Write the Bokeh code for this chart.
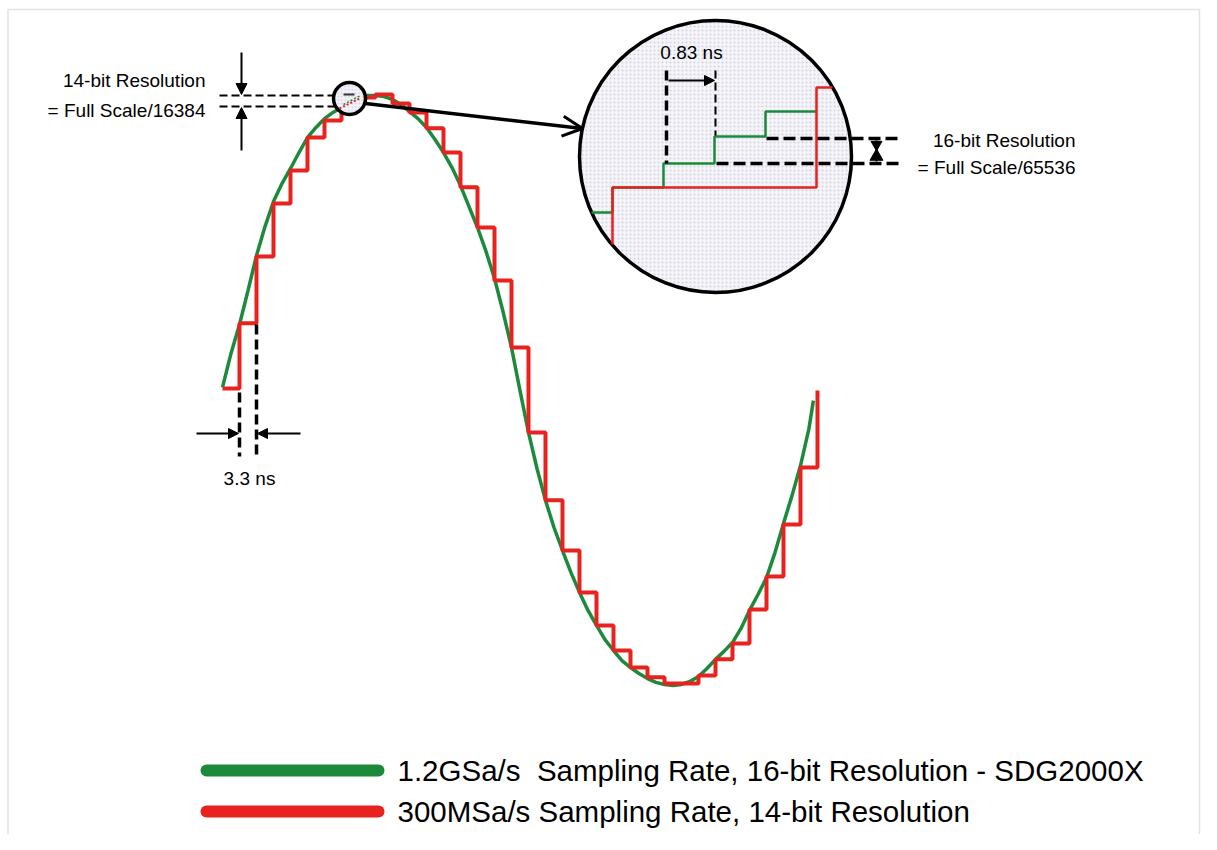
from bokeh.plotting import figure
from bokeh.models import Range1d, Arrow, OpenHead, NormalHead, Label
from bokeh.embed import file_html
from bokeh.resources import INLINE

# ---------------- data (time in ns, amplitude normalised to full scale) -------------
red_t = [0.0, 3.3, 6.6, 9.9, 13.2, 16.5, 19.8, 23.1, 26.4, 29.7, 33.0, 36.3,
         39.6, 42.9, 46.2, 49.5, 52.8, 56.1, 59.4, 62.7, 66.0, 69.3, 72.6, 75.9,
         79.2, 82.5, 85.8, 89.1, 92.4, 95.7, 99.0, 102.3, 105.6, 108.9, 112.2, 115.5]
red_v = [0.010, 0.231, 0.458, 0.637, 0.749, 0.861, 0.919, 0.963, 0.997, 1.007, 0.976, 0.946,
         0.892, 0.810, 0.692, 0.556, 0.376, 0.149, -0.139, -0.369, -0.539, -0.681, -0.793, -0.878,
         -0.936, -0.969, -0.990, -0.990, -0.963, -0.908, -0.854, -0.739, -0.627, -0.451, -0.258, 0.003]

green_t = [0.0, 1.65, 3.3, 4.95, 6.6, 8.25, 9.9, 11.55, 13.2, 14.85, 16.5, 18.15,
           19.8, 21.45, 23.1, 24.75, 26.4, 28.05, 29.7, 31.35, 33.0, 34.65, 36.3, 37.95,
           39.6, 41.25, 42.9, 44.55, 46.2, 47.85, 49.5, 51.15, 52.8, 54.45, 56.1, 57.75,
           59.4, 61.05, 62.7, 64.35, 66.0, 67.65, 69.3, 70.95, 72.6, 74.25, 75.9, 77.55,
           79.2, 80.85, 82.5, 84.15, 85.8, 87.45, 89.1, 90.75, 92.4, 94.05, 95.7, 97.35,
           99.0, 100.65, 102.3, 103.95, 105.6, 107.25, 108.9, 110.55, 112.2, 113.85, 114.7]
green_v = [0.014, 0.129, 0.227, 0.342, 0.461, 0.559, 0.644, 0.705, 0.756, 0.810, 0.861, 0.895,
           0.925, 0.946, 0.963, 0.983, 0.997, 1.003, 1.003, 1.000, 0.990, 0.973, 0.949, 0.925,
           0.895, 0.854, 0.810, 0.759, 0.698, 0.627, 0.556, 0.475, 0.383, 0.271, 0.149, 0.003,
           -0.139, -0.261, -0.369, -0.461, -0.539, -0.614, -0.681, -0.742, -0.793, -0.841, -0.878, -0.912,
           -0.936, -0.956, -0.973, -0.986, -0.993, -0.997, -0.993, -0.983, -0.966, -0.939, -0.908, -0.881,
           -0.851, -0.803, -0.742, -0.688, -0.631, -0.546, -0.447, -0.353, -0.251, -0.125, -0.031]

legend_labels = ["1.2GSa/s\u00a0 Sampling Rate, 16-bit Resolution - SDG2000X",
                 "300MSa/s Sampling Rate, 14-bit Resolution"]
note_14bit = ["14-bit Resolution", "= Full Scale/16384"]
note_16bit = ["16-bit Resolution", "= Full Scale/65536"]
note_red_step = "3.3 ns"
note_green_step = "0.83 ns"

assert len(red_t) == len(red_v) and len(green_t) == len(green_v)

# ---------------- layout helpers (picture pixel -> data) ----------------
W, H = 1201, 834
X0_PX, PX_PER_NS = 222.0, 17.0 / 3.3
Y0_PX, PX_PER_UNIT = 391.0, 295.0


def ax(px):
    return (px - X0_PX) / PX_PER_NS


def ay(py):
    return (Y0_PX - py) / PX_PER_UNIT


GREEN = "#1d8a3b"
RED = "#e8221e"
FONT = "Liberation Sans"

p = figure(width=W, height=H, output_backend="svg", toolbar_location=None,
           x_range=Range1d(ax(0), ax(W)), y_range=Range1d(ay(H), ay(0)),
           x_axis_location=None, y_axis_location=None, min_border=0,
           outline_line_color=None, background_fill_color="white", border_fill_color="white")
p.grid.grid_line_color = None

# faint picture border
p.line([ax(7.5), ax(7.5), ax(1199), ax(1199)], [ay(850), ay(9), ay(9), ay(850)],
       line_color="#e3e3e3", line_width=1.5)

# ---------------- main waveforms ----------------
p.line(green_t, green_v, line_color=GREEN, line_width=3.5)
p.step(red_t, red_v, mode="after", line_color=RED, line_width=4)

# ---------------- 14-bit annotation ----------------
for yy in (95, 106):
    p.line([ax(219), ax(335)], [ay(yy), ay(yy)], line_color="black", line_width=2, line_dash="8 4")
p.add_layout(Arrow(end=NormalHead(size=11, fill_color="black", line_color="black"),
                   x_start=ax(241), y_start=ay(52), x_end=ax(241), y_end=ay(94),
                   line_width=2, line_color="black"))
p.add_layout(Arrow(end=NormalHead(size=11, fill_color="black", line_color="black"),
                   x_start=ax(241), y_start=ay(150), x_end=ax(241), y_end=ay(107),
                   line_width=2, line_color="black"))
for i, txt in enumerate(note_14bit):
    p.add_layout(Label(x=ax(205), y=ay(80 + 30 * i), text=txt, text_align="right",
                       text_baseline="middle", text_font=FONT, text_font_size="19px",
                       text_color="black"))

# ---------------- 3.3 ns annotation ----------------
p.line([ax(239), ax(239)], [ay(392), ay(456)], line_color="black", line_width=3.5, line_dash="10 5")
p.line([ax(256), ax(256)], [ay(324), ay(456)], line_color="black", line_width=3.5, line_dash="10 5")
p.add_layout(Arrow(end=NormalHead(size=10, fill_color="black", line_color="black"),
                   x_start=ax(196), y_start=ay(433), x_end=ax(238), y_end=ay(433),
                   line_width=1.8, line_color="black"))
p.add_layout(Arrow(end=NormalHead(size=10, fill_color="black", line_color="black"),
                   x_start=ax(300), y_start=ay(433), x_end=ax(257), y_end=ay(433),
                   line_width=1.8, line_color="black"))
p.add_layout(Label(x=ax(249), y=ay(478), text=note_red_step, text_align="center",
                   text_baseline="middle", text_font=FONT, text_font_size="19px", text_color="black"))

# ---------------- small magnifier circle ----------------
p.scatter([ax(349)], [ay(98)], marker="circle", size=32, fill_color="#f3f3f9",
          hatch_pattern="dot", hatch_color="#cdcde2", hatch_scale=3.5, hatch_weight=1,
          line_color="black", line_width=3.5)
p.line([ax(343), ax(354)], [ay(94), ay(94)], line_color="#333333", line_width=2)
p.line([ax(339), ax(359)], [ay(108), ay(98)], line_color=RED, line_width=2, line_dash="2 2")
p.line([ax(343), ax(360)], [ay(104), ay(95)], line_color=GREEN, line_width=1.5, line_dash="2 2")

# ---------------- big magnified circle ----------------
p.scatter([ax(715)], [ay(156)], marker="circle", size=272, fill_color="#f4f4f9",
          hatch_pattern="dot", hatch_color="#d2d2e5", hatch_scale=4, hatch_weight=1,
          line_color="black", line_width=3.5)
gx = [591, 612, 612, 663, 663, 714, 714, 765, 765, 816]
gy = [212, 212, 187, 187, 163, 163, 136, 136, 111, 111]
p.line([ax(v) for v in gx], [ay(v) for v in gy], line_color=GREEN, line_width=2.5)
rx = [612, 612, 816, 816, 832]
ry = [244, 187, 187, 87, 87]
p.line([ax(v) for v in rx], [ay(v) for v in ry], line_color=RED, line_width=2.5)

# arrow from small to big circle
p.add_layout(Arrow(end=OpenHead(size=20, line_width=3, line_color="black"),
                   x_start=ax(365), y_start=ay(103), x_end=ax(582), y_end=ay(128),
                   line_width=3.5, line_color="black"))

# 0.83 ns inside inset
p.line([ax(666), ax(666)], [ay(70), ay(163)], line_color="black", line_width=3.5, line_dash="10 5")
p.line([ax(715), ax(715)], [ay(70), ay(135)], line_color="black", line_width=2, line_dash="8 4")
p.add_layout(Arrow(end=NormalHead(size=10, fill_color="black", line_color="black"),
                   x_start=ax(668), y_start=ay(80), x_end=ax(714), y_end=ay(80),
                   line_width=2, line_color="black"))
p.add_layout(Label(x=ax(691), y=ay(52), text=note_green_step, text_align="center",
                   text_baseline="middle", text_font=FONT, text_font_size="19px", text_color="black"))

# 16-bit annotation
p.line([ax(766), ax(899)], [ay(138), ay(138)], line_color="black", line_width=3.5, line_dash="12 5")
p.line([ax(716), ax(900)], [ay(163), ay(163)], line_color="black", line_width=3.5, line_dash="12 5")
p.line([ax(876), ax(876)], [ay(140), ay(161)], line_color="black", line_width=2)
p.scatter([ax(876)], [ay(144)], marker="inverted_triangle", size=11, color="black")
p.scatter([ax(876)], [ay(156)], marker="triangle", size=13, color="black")
for i, txt in enumerate(note_16bit):
    p.add_layout(Label(x=ax(1075), y=ay(140 + 27 * i), text=txt, text_align="right",
                       text_baseline="middle", text_font=FONT, text_font_size="19px",
                       text_color="black"))

# ---------------- legend ----------------
for i, (col, txt) in enumerate(zip([GREEN, RED], legend_labels)):
    yy = 770 + 41 * i
    p.line([ax(206), ax(378)], [ay(yy), ay(yy)], line_color=col, line_width=12, line_cap="round")
    p.add_layout(Label(x=ax(397), y=ay(yy), text=txt, text_align="left", text_baseline="middle",
                       text_font=FONT, text_font_size="29.5px", text_color="black"))

open("out.html", "w").write(file_html(p, INLINE))
